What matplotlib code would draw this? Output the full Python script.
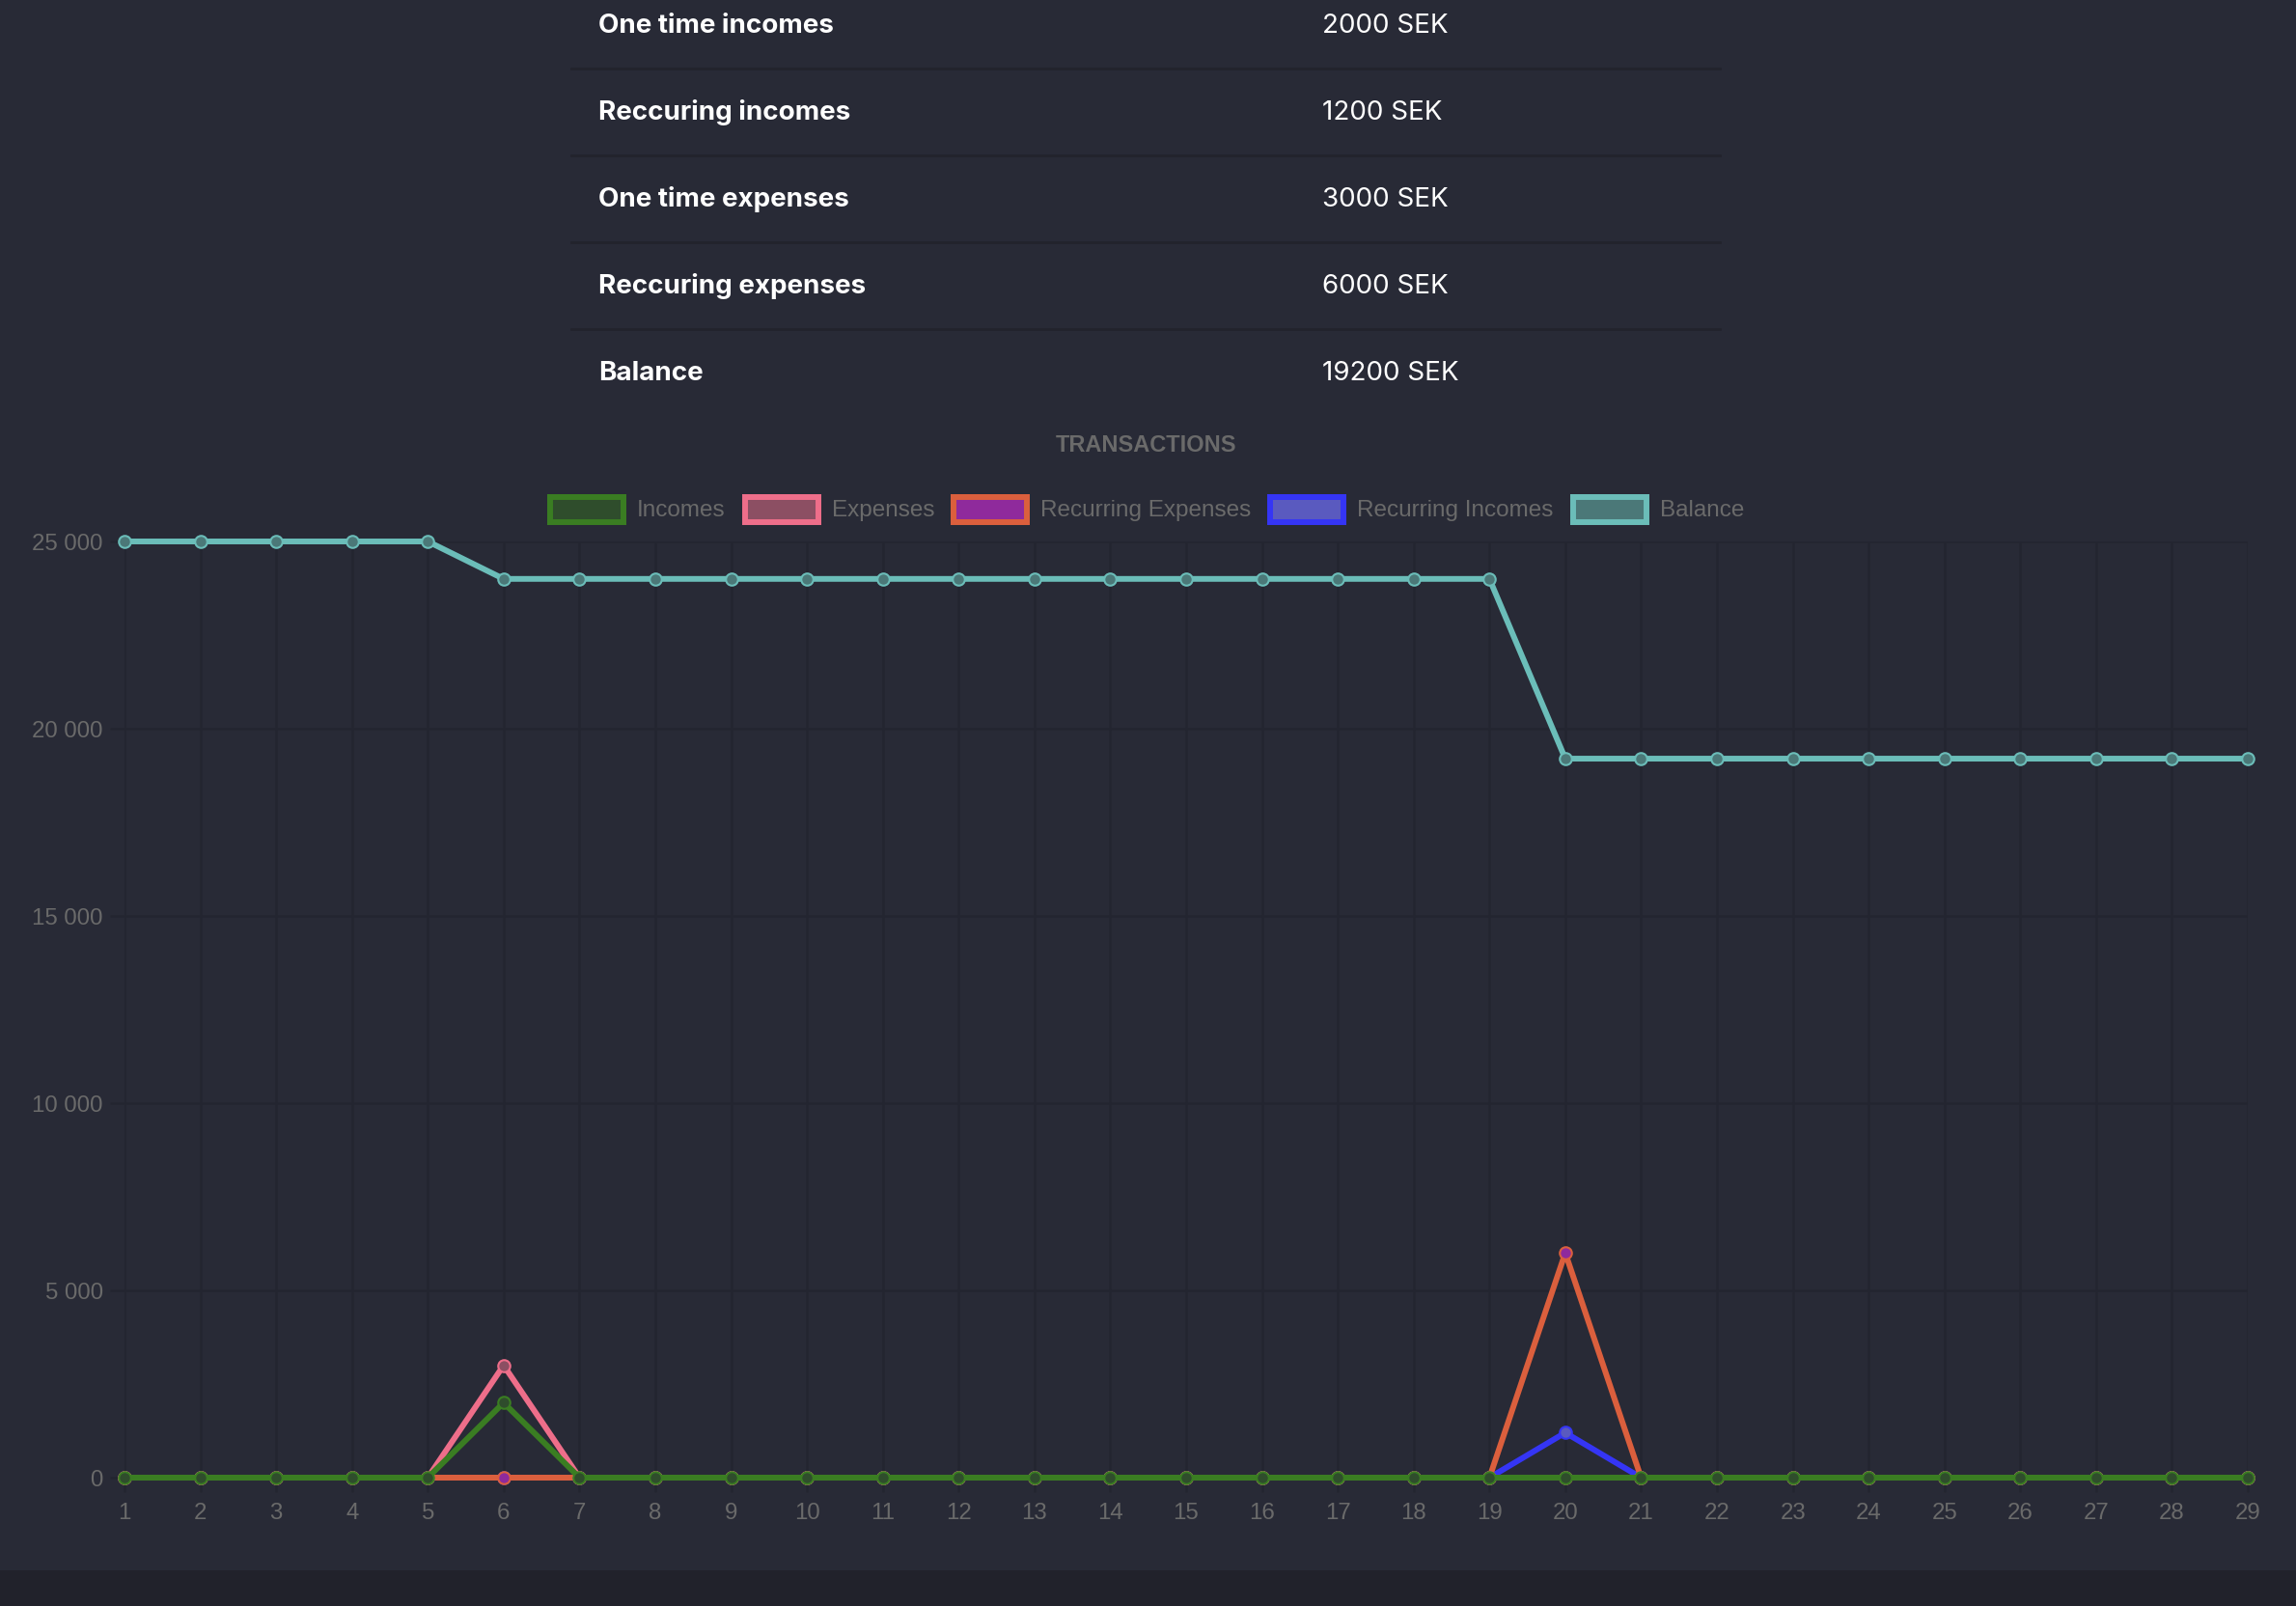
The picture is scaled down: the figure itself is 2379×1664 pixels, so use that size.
import matplotlib
matplotlib.use("Agg")
import matplotlib.pyplot as plt
from matplotlib.patches import Rectangle
from matplotlib.ticker import FuncFormatter

plt.rcParams['font.family'] = ['Liberation Sans', 'DejaVu Sans']

# summary table
summary_labels = ["One time incomes", "Reccuring incomes", "One time expenses",
                  "Reccuring expenses", "Balance"]
summary_values = ["2000 SEK", "1200 SEK", "3000 SEK", "6000 SEK", "19200 SEK"]

# chart data
days = list(range(1, 30))
incomes = [0] * 5 + [2000] + [0] * 23
expenses = [0] * 5 + [3000] + [0] * 23
recurring_expenses = [0] * 19 + [6000] + [0] * 9
recurring_incomes = [0] * 19 + [1200] + [0] * 9
balance = [25000] * 5 + [24000] * 14 + [19200] * 10

series_names = ["Incomes", "Expenses", "Recurring Expenses", "Recurring Incomes", "Balance"]
series_data = [incomes, expenses, recurring_expenses, recurring_incomes, balance]
line_colors = ["#3a7d22", "#ee6e8a", "#db5f3d", "#3535f5", "#6bbdb9"]
fill_colors = ["#2f4d2c", "#8c4f63", "#8f2a9c", "#5a5abf", "#4b7878"]

W, H = 2379, 1665
BG = "#282a36"
GRID = "#232530"
TXT = "#6a6a6a"

fig = plt.figure(figsize=(W / 100, H / 100), dpi=100, facecolor=BG)

def fx(px):
    return px / W

def fy(py):
    return 1 - py / H

# bottom darker band
fig.patches.append(Rectangle((0, 0), 1, fy(1628), transform=fig.transFigure,
                             facecolor="#21222b", edgecolor="none", zorder=0))

# table
label_x, value_x = 620, 1370
row_y = [27, 117, 207, 297, 387]
for lab, val, y in zip(summary_labels, summary_values, row_y):
    fig.text(fx(label_x), fy(y), lab, color="white", fontsize=20, fontweight="bold",
             ha="left", va="center", family=["Inter", "DejaVu Sans"])
    fig.text(fx(value_x), fy(y), val, color="white", fontsize=20,
             ha="left", va="center", family=["Inter", "DejaVu Sans"])
for i in range(len(row_y) - 1):
    y = (row_y[i] + row_y[i + 1]) / 2
    fig.add_artist(plt.Line2D([fx(592), fx(1782)], [fy(y), fy(y)], color="#22232c",
                              linewidth=2, transform=fig.transFigure))

# title
fig.text(fx(1187), fy(462), "TRANSACTIONS", color=TXT, fontsize=17, fontweight="bold",
         ha="center", va="center")

# axes
ax = fig.add_axes([fx(129), fy(1532), fx(2329) - fx(129), fy(562) - fy(1532)])
ax.set_facecolor(BG)
for s in ax.spines.values():
    s.set_visible(False)
ax.set_xlim(1, 29)
ax.set_ylim(0, 25000)
ax.set_xticks(days)
ax.set_yticks(range(0, 25001, 5000))
ax.yaxis.set_major_formatter(FuncFormatter(lambda v, p: "{:,}".format(int(v)).replace(",", " ")))
ax.grid(True, color=GRID, linewidth=1.8)
ax.set_axisbelow(True)
ax.tick_params(colors=GRID, labelcolor=TXT, labelsize=17.3, length=11, width=1.8)
ax.tick_params(axis="y", pad=5)
ax.tick_params(axis="x", pad=7)

n = len(series_data)
for i, (name, data, lc, fc) in enumerate(zip(series_names, series_data, line_colors, fill_colors)):
    ax.plot(days, data, color=lc, linewidth=4.3, marker="o", markersize=9,
            markerfacecolor=fc, markeredgecolor=lc, markeredgewidth=1.5,
            zorder=10 + (n - i), clip_on=False)

# legend (centered on canvas)
renderer = fig.canvas.get_renderer()
box_w, box_h, gap, item_pad = 82, 24, 11, 17
legend_y = 529
widths = []
texts = []
for name in series_names:
    t = fig.text(0, fy(legend_y), name, color=TXT, fontsize=17.5, ha="left", va="center")
    tw = t.get_window_extent(renderer).width
    texts.append(t)
    widths.append(box_w + gap + tw)
total = sum(widths) + item_pad * (len(widths) - 1)
x = 1187 - total / 2
for t, w, lc, fc in zip(texts, widths, line_colors, fill_colors):
    fig.patches.append(Rectangle((fx(x + 3), fy(legend_y + box_h / 2 + 1)),
                                 fx(box_w - 6), (box_h + 2) / H,
                                 transform=fig.transFigure, facecolor=fc,
                                 edgecolor=lc, linewidth=4.3))
    t.set_x(fx(x + box_w + gap))
    x += w + item_pad

fig.savefig("out.png", dpi=100, facecolor=BG)
